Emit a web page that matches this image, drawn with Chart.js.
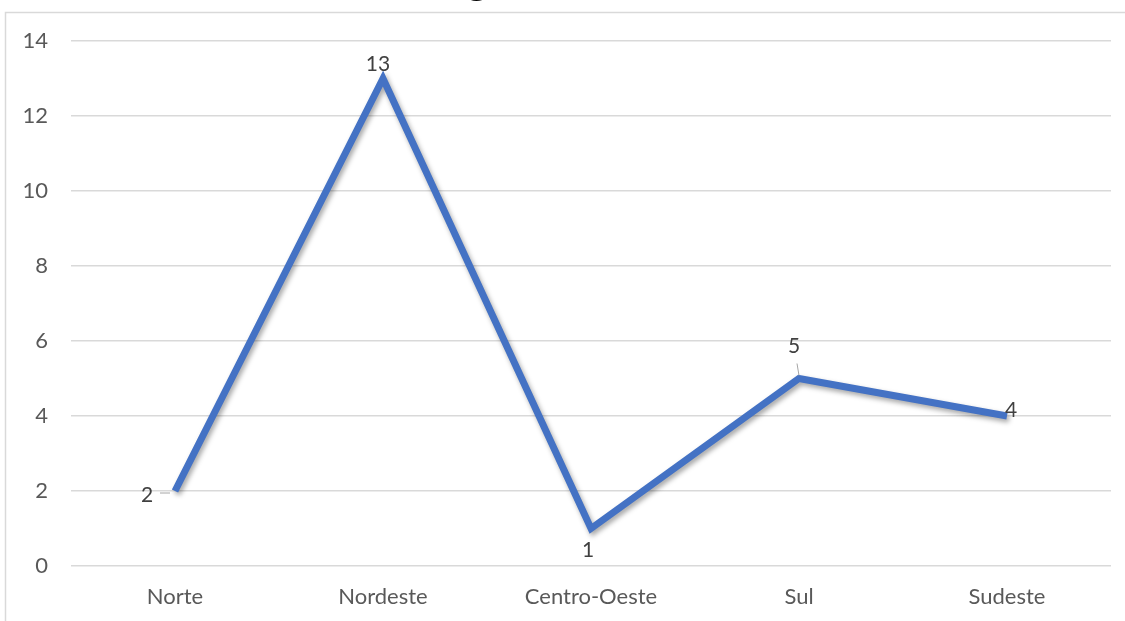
<!DOCTYPE html>
<html>
<head>
<meta charset="utf-8">
<script src="https://cdn.jsdelivr.net/npm/chart.js@4.4.1/dist/chart.umd.min.js"></script>
<style>
  html, body { margin: 0; padding: 0; background: #fff; }
  #wrap { width: 1125px; height: 621px; position: relative; }
</style>
</head>
<body>
<div id="wrap"><canvas id="chart"></canvas></div>
<script>
const regioes = ['Norte', 'Nordeste', 'Centro-Oeste', 'Sul', 'Sudeste'];
const valores = [2, 13, 1, 5, 4];
const yTicks = [0, 2, 4, 6, 8, 10, 12, 14];

// label offsets relative to each point (dx, dy) and optional leader line
const labelPos = [
    { dx: -28, dy: 4, leader: [[-15, 2], [-5, 2]] },
    { dx: -5, dy: -14 },
    { dx: -3, dy: 22 },
    { dx: -5, dy: -32, leader: [[-2, -15], [0, -3]] },
    { dx: 4, dy: -6 }
];

const frame = {
    id: 'frame',
    beforeDraw(chart) {
        const c = chart.ctx;
        c.save();
        c.strokeStyle = '#d9d9d9';
        c.lineWidth = 1.5;
        c.beginPath();
        c.moveTo(5.5, 630);
        c.lineTo(5.5, 12.5);
        c.lineTo(1130, 12.5);
        c.stroke();
        // bottom of the cut-off title
        c.fillStyle = '#000';
        c.font = 'bold 36px "Liberation Serif"';
        c.textAlign = 'center';
        c.textBaseline = 'alphabetic';
        c.fillText('g', 477, -7);
        c.restore();
    }
};

const shadow = {
    id: 'shadow',
    beforeDatasetDraw(chart) {
        const c = chart.ctx;
        c.save();
        c.shadowColor = 'rgba(0,0,0,0.35)';
        c.shadowBlur = 5;
        c.shadowOffsetX = 2;
        c.shadowOffsetY = 3;
    },
    afterDatasetDraw(chart) {
        chart.ctx.restore();
    }
};

const labels = {
    id: 'labels',
    afterDatasetsDraw(chart) {
        const c = chart.ctx;
        const pts = chart.getDatasetMeta(0).data;
        c.save();
        c.font = '21px Lato';
        c.fillStyle = '#404040';
        c.textAlign = 'center';
        c.textBaseline = 'middle';
        pts.forEach((p, i) => {
            const lp = labelPos[i];
            if (lp.leader) {
                c.strokeStyle = '#a6a6a6';
                c.lineWidth = 1;
                c.beginPath();
                c.moveTo(p.x + lp.leader[0][0], p.y + lp.leader[0][1]);
                c.lineTo(p.x + lp.leader[1][0], p.y + lp.leader[1][1]);
                c.stroke();
            }
            c.fillText(String(valores[i]), p.x + lp.dx, p.y + lp.dy);
        });
        c.restore();
    }
};

new Chart(document.getElementById('chart'), {
    type: 'line',
    data: {
        labels: regioes,
        datasets: [{
            data: valores,
            borderColor: '#4472C4',
            borderWidth: 7,
            pointRadius: 0,
            tension: 0,
            fill: false,
            borderJoinStyle: 'miter'
        }]
    },
    options: {
        responsive: true,
        maintainAspectRatio: false,
        animation: false,
        devicePixelRatio: 1,
        layout: { padding: { left: 0, top: 41, right: 14, bottom: 0 } },
        plugins: {
            legend: { display: false },
            tooltip: { enabled: false }
        },
        scales: {
            x: {
                offset: true,
                grid: { display: false },
                border: { display: false },
                ticks: { color: '#595959', font: { family: 'Lato', size: 22 }, padding: 10 },
                afterFit(s) { s.height = 55; }
            },
            y: {
                min: 0,
                max: 14,
                afterBuildTicks(s) { s.ticks = yTicks.map(v => ({ value: v })); },
                grid: { color: '#d9d9d9', lineWidth: 1.5, drawTicks: false },
                border: { display: false },
                ticks: { color: '#595959', font: { family: 'Lato', size: 22 }, padding: 23 },
                afterFit(s) { s.width = 71; }
            }
        }
    },
    plugins: [frame, shadow, labels]
});
</script>
</body>
</html>
